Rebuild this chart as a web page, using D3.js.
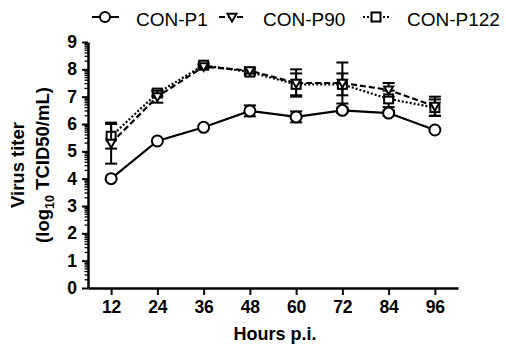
<!DOCTYPE html>
<html>
<head>
<meta charset="utf-8">
<script src="https://cdn.jsdelivr.net/npm/d3@7"></script>
<style>
  body { margin: 0; background: #fff; }
  text { font-family: "Liberation Sans", Arial, sans-serif; }
</style>
</head>
<body>
<div id="chart"></div>
<script>
// data
const hours = [12, 24, 36, 48, 60, 72, 84, 96];
const p1Mean = [4.0, 5.38, 5.88, 6.48, 6.26, 6.5, 6.4, 5.78];
const p1Err = [0, 0, 0, 0.2, 0.2, 0.1, 0.1, 0];
const p90Mean = [5.3, 7.0, 8.1, 7.95, 7.5, 7.5, 7.25, 6.65];
const p90Err = [0.75, 0.22, 0.05, 0.1, 0.5, 0.75, 0.25, 0.35];
const p122Mean = [5.55, 7.13, 8.15, 7.9, 7.45, 7.45, 6.92, 6.6];
const p122Err = [0.45, 0.1, 0.05, 0.1, 0.4, 0.4, 0.3, 0.3];
const yTicks = [0, 1, 2, 3, 4, 5, 6, 7, 8, 9];

const series = [
  { name: "CON-P1", mean: p1Mean, err: p1Err, dash: null, marker: "circle" },
  { name: "CON-P90", mean: p90Mean, err: p90Err, dash: "6,3", marker: "triangle" },
  { name: "CON-P122", mean: p122Mean, err: p122Err, dash: "2,2", marker: "square" }
];

const W = 506, H = 347;
const margin = { top: 42, right: 48, bottom: 59, left: 88 };
const width = W - margin.left - margin.right;
const height = H - margin.top - margin.bottom;

const svg = d3.select("#chart")
  .append("svg")
    .attr("width", W)
    .attr("height", H)

const g = svg.append("g")
  .attr("transform", `translate(${margin.left},${margin.top})`)

const x = d3.scaleLinear().domain([6, 102]).range([0, width]);
const y = d3.scaleLinear().domain([0, 9]).range([height, 0]);

// minor log ticks inside each unit
const minor = [];
for (let i = 0; i < 9; i++) {
  for (let k = 2; k <= 9; k++) minor.push(i + Math.log10(k));
}
g.append("g")
  .selectAll("line")
  .data(minor)
  .enter()
  .append("line")
    .attr("x1", 0).attr("x2", -3.5)
    .attr("y1", d => y(d)).attr("y2", d => y(d))
    .attr("stroke", "#000").attr("stroke-width", 1.3)

const tickFont = "'Liberation Sans', Arial, sans-serif";

// y axis
const yAxis = g.append("g")
  .call(d3.axisLeft(y).tickValues(yTicks).tickSize(6).tickSizeOuter(0).tickPadding(5))
yAxis.select(".domain").attr("stroke-width", 2.5)
yAxis.selectAll(".tick line").attr("stroke-width", 2)
yAxis.selectAll("text")
  .style("font-size", "17.5px").style("font-weight", "bold")
  .style("font-family", tickFont)

// x axis
const xAxis = g.append("g")
  .attr("transform", `translate(0,${height})`)
  .call(d3.axisBottom(x).tickValues(hours).tickSize(7).tickSizeOuter(0).tickPadding(6))
xAxis.select(".domain").attr("stroke-width", 2.5)
xAxis.selectAll(".tick line").attr("stroke-width", 2)
xAxis.selectAll("text")
  .style("font-size", "17.5px").style("font-weight", "bold")
  .style("font-family", tickFont)

// axis titles
svg.append("text")
  .attr("x", margin.left + width / 2 + 2)
  .attr("y", 340)
  .attr("text-anchor", "middle")
  .style("font-size", "18px").style("font-weight", "bold")
  .text("Hours p.i.")

const yt = svg.append("text")
  .attr("transform", `translate(24,165) rotate(-90)`)
  .attr("text-anchor", "middle")
  .style("font-size", "18.5px").style("font-weight", "bold")
yt.append("tspan").attr("x", 0).attr("dy", 0).text("Virus titer")
const yt2 = yt.append("tspan").attr("x", 0).attr("dy", 25).text("(log")
yt2.append("tspan").attr("dy", 5).style("font-size", "12.5px").text("10")
yt.append("tspan").attr("dy", -5).text(" TCID50/mL)")

// marker drawing
function drawMarker(sel, type, s) {
  if (type === "circle") {
    sel.append("circle").attr("r", s)
  } else if (type === "square") {
    sel.append("rect").attr("x", -s).attr("y", -s).attr("width", 2 * s).attr("height", 2 * s)
  } else {
    sel.append("path").attr("d", `M${-s},${-s * 0.75}L${s},${-s * 0.75}L0,${s}Z`)
  }
}

const line = d3.line()
  .x((d, i) => x(hours[i]))
  .y(d => y(d))

// lines, error bars, markers per series (draw P122 and P90 first)
series.slice().reverse().forEach(function(s) {
  const sg = g.append("g")
  sg.append("path")
    .datum(s.mean)
    .attr("d", line)
    .attr("fill", "none")
    .attr("stroke", "#000")
    .attr("stroke-width", 2.2)
    .attr("stroke-dasharray", s.dash)

  const eb = sg.selectAll(".err")
    .data(hours.map((h, i) => [h, s.mean[i], s.err[i]]).filter(d => d[2] > 0))
    .enter()
    .append("g")
    .attr("stroke", "#000").attr("stroke-width", 2)
  eb.append("line")
    .attr("x1", d => x(d[0])).attr("x2", d => x(d[0]))
    .attr("y1", d => y(d[1] - d[2])).attr("y2", d => y(d[1] + d[2]))
  eb.append("line")
    .attr("x1", d => x(d[0]) - 6).attr("x2", d => x(d[0]) + 6)
    .attr("y1", d => y(d[1] + d[2])).attr("y2", d => y(d[1] + d[2]))
  eb.append("line")
    .attr("x1", d => x(d[0]) - 6).attr("x2", d => x(d[0]) + 6)
    .attr("y1", d => y(d[1] - d[2])).attr("y2", d => y(d[1] - d[2]))

  sg.selectAll(".pt")
    .data(s.mean)
    .enter()
    .append("g")
      .attr("transform", (d, i) => `translate(${x(hours[i])},${y(d)})`)
      .attr("fill", "#fff").attr("stroke", "#000").attr("stroke-width", 2)
      .each(function() { drawMarker(d3.select(this), s.marker, s.marker === "circle" ? 5.5 : 4.5) })
})

// legend
const legendX = [92, 219, 363];
const leg = svg.append("g")
series.forEach(function(s, i) {
  const lg = leg.append("g").attr("transform", `translate(${legendX[i]},17)`)
  lg.append("line")
    .attr("x1", 0).attr("x2", 27).attr("y1", 0).attr("y2", 0)
    .attr("stroke", "#000").attr("stroke-width", 2)
    .attr("stroke-dasharray", s.dash)
  const m = lg.append("g")
    .attr("transform", "translate(13,0)")
    .attr("fill", "#fff").attr("stroke", "#000").attr("stroke-width", 2)
  drawMarker(m, s.marker, s.marker === "circle" ? 5 : 4.5)
  lg.append("text")
    .attr("x", 44).attr("y", 9)
    .style("font-size", "19px")
    .text(s.name)
})
</script>
</body>
</html>
